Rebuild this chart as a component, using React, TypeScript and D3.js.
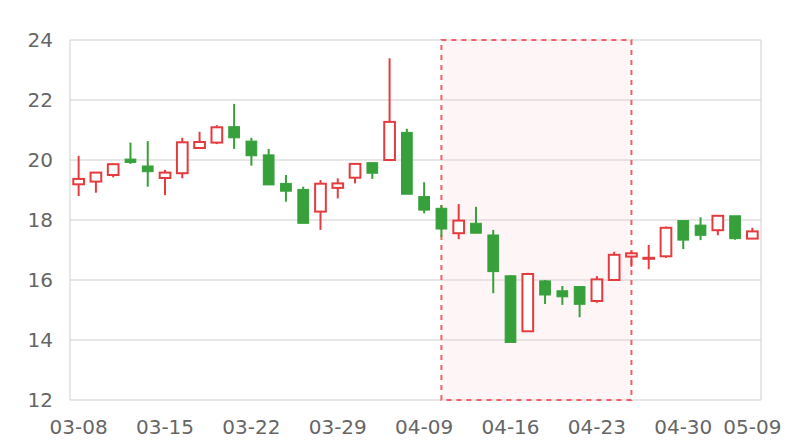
import React from "react";
import * as d3 from "d3";

const dates = [
  "03-08","03-11","03-12","03-13","03-14","03-15","03-18","03-19","03-20","03-21",
  "03-22","03-25","03-26","03-27","03-28","03-29","04-01","04-02","04-03","04-08",
  "04-09","04-10","04-11","04-12","04-15","04-16","04-17","04-18","04-19","04-22",
  "04-23","04-24","04-25","04-26","04-29","04-30","05-06","05-07","05-08","05-09",
];
const opens = [19.19,19.28,19.5,20.03,19.8,19.4,19.56,20.4,20.58,21.11,20.63,20.17,19.22,19.02,18.28,19.07,19.41,19.91,20.0,20.92,18.78,18.39,17.56,17.89,17.5,16.14,14.29,15.97,15.64,15.78,15.3,16.0,16.78,16.71,16.79,17.98,17.83,17.66,18.14,17.38];
const closes = [19.37,19.58,19.86,19.92,19.61,19.58,20.59,20.6,21.09,20.74,20.14,19.17,18.96,17.89,19.21,19.22,19.87,19.56,21.27,18.86,18.33,17.7,17.98,17.56,16.28,13.92,16.2,15.5,15.44,15.19,16.02,16.84,16.89,16.74,17.74,17.33,17.49,18.14,17.38,17.62];
const lows = [18.8,18.91,19.42,19.87,19.11,18.83,19.39,20.4,20.53,20.37,19.81,19.17,18.61,17.89,17.67,18.72,19.22,19.37,20.0,18.86,18.22,17.44,17.36,17.56,15.56,13.92,14.29,15.2,15.17,14.76,15.24,16.0,16.44,16.36,16.74,17.03,17.33,17.49,17.34,17.38];
const highs = [20.14,19.6,19.88,20.58,20.63,19.67,20.74,20.94,21.16,21.87,20.74,20.37,19.5,19.11,19.33,19.39,19.9,19.93,23.39,21.04,19.26,18.5,18.53,18.44,17.67,16.16,16.24,16.0,15.8,15.8,16.13,16.94,16.96,17.17,17.78,17.98,18.09,18.14,18.14,17.74];
const yTicks = [12, 14, 16, 18, 20, 22, 24];
const xLabels = ["03-08","03-15","03-22","03-29","04-09","04-16","04-23","04-30","05-09"];
const markStart = "04-10";
const markEnd = "04-25";

const W = 800, H = 440;
const left = 70, right = 761, top = 40, bottom = 400;
const RED = "#e63b3e";
const GREEN = "#36a03a";
const FONT = "DejaVu Sans, sans-serif";

export default function App() {
  const x = d3.scaleBand<string>().domain(dates).range([left, right]).padding(0);
  const y = d3.scaleLinear().domain([12, 24]).range([bottom, top]);
  const cx = (d: string) => (x(d) as number) + x.bandwidth() / 2;
  const bw = x.bandwidth() * 0.62;

  return (
    <svg width={W} height={H} style={{ position: "absolute", left: 0, top: 0 }}>
      <rect x={0} y={0} width={W} height={H} fill="#fff" />
      {yTicks.map((t) => (
        <line key={t} x1={left} x2={right} y1={y(t)} y2={y(t)} stroke="#cfcfcf" strokeWidth={1} />
      ))}
      <line x1={left} x2={left} y1={top} y2={bottom} stroke="#cfcfcf" />
      <line x1={right} x2={right} y1={top} y2={bottom} stroke="#cfcfcf" />
      <rect
        x={cx(markStart)}
        y={top}
        width={cx(markEnd) - cx(markStart)}
        height={bottom - top}
        fill="rgba(250,200,205,0.18)"
        stroke="#f06268"
        strokeWidth={2}
        strokeDasharray="5,5"
      />
      {dates.map((d, i) => {
        const up = closes[i] >= opens[i];
        const c = up ? RED : GREEN;
        const bTop = y(Math.max(opens[i], closes[i]));
        const bBot = y(Math.min(opens[i], closes[i]));
        const xc = cx(d);
        return (
          <g key={d}>
            <line x1={xc} x2={xc} y1={y(highs[i])} y2={bTop} stroke={c} strokeWidth={2} />
            <line x1={xc} x2={xc} y1={bBot} y2={y(lows[i])} stroke={c} strokeWidth={2} />
            <rect
              x={xc - bw / 2}
              y={bTop}
              width={bw}
              height={Math.max(bBot - bTop, 1)}
              fill={up ? "#fff" : c}
              stroke={c}
              strokeWidth={up ? 2 : 1}
            />
          </g>
        );
      })}
      {yTicks.map((t) => (
        <text key={t} x={53} y={y(t)} dy="0.36em" textAnchor="end" fontSize={20} fill="#666" fontFamily={FONT}>
          {t}
        </text>
      ))}
      {xLabels.map((l) => (
        <text key={l} x={cx(l)} y={434} textAnchor="middle" fontSize={20} fill="#666" fontFamily={FONT}>
          {l}
        </text>
      ))}
    </svg>
  );
}
